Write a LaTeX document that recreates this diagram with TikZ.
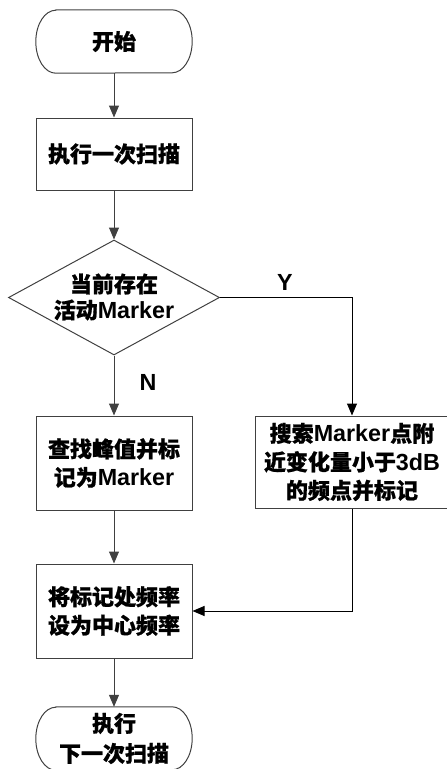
\documentclass[tikz,border=0pt]{standalone}
\usepackage{fontspec}
\setmainfont{Liberation Sans}[Scale=1.06]
\newfontfamily\cjk{Noto Sans CJK SC}[BoldFeatures={FakeBold=0.8}]
\usetikzlibrary{shapes.geometric,arrows.meta,calc}
\newcommand{\C}[1]{{\cjk\bfseries #1}}
\tikzset{
  lc/.style={draw=black!75, line width=1pt},
  boxnode/.style={lc, rectangle, inner sep=0pt, minimum width=156pt, align=center,
    font=\fontsize{22pt}{28.5pt}\selectfont\bfseries},
  termnode/.style={rectangle, inner sep=0pt, minimum width=156pt, minimum height=63pt, align=center,
    font=\fontsize{22pt}{30pt}\selectfont\bfseries},
  decnode/.style={lc, diamond, inner sep=0pt, minimum width=211pt, minimum height=115pt},
  txt/.style={inner sep=0pt, align=center, font=\fontsize{22pt}{26pt}\selectfont\bfseries},
  arr/.style={lc, -{Triangle[width=10pt,length=12pt]}},
  lab/.style={inner sep=0pt, font=\fontsize{22pt}{26pt}\selectfont\bfseries}
}
\newcommand{\term}[1]{%
  \draw[lc] ([xshift=20pt]#1.north west) -- ([xshift=-20pt]#1.north east)
    arc[start angle=90,end angle=-90,x radius=20pt,y radius=31.5pt]
    -- ([xshift=20pt]#1.south west)
    arc[start angle=270,end angle=90,x radius=20pt,y radius=31.5pt] -- cycle;}
\begin{document}
\begin{tikzpicture}[x=1pt,y=-1pt]
\useasboundingbox (0,0) rectangle (447,769);
\node[termnode] (start) at (114,41.5) {\C{开始}};
\term{start}
\node[boxnode, minimum height=72pt] (scan) at (114,154) {\C{执行一次扫描}};
\node[decnode] (dec) at (114,297.5) {};
\node[txt] (dectxt) at (114,297) {\C{当前存在}\\\C{活动}Marker};
\node[boxnode, minimum height=94pt] (peak) at (114,463) {\C{查找峰值并标}\\\C{记为}Marker};
\node[boxnode, minimum width=194pt, minimum height=92pt] (search) at (352,462)
  {\C{搜索}Marker\C{点附}\\\C{近变化量小于}3dB\\\C{的频点并标记}};
\node[boxnode, minimum height=94pt] (center) at (114,611) {\C{将标记处频率}\\\C{设为中心频率}};
\node[termnode] (next) at (114,738.5) {\C{执行}\\\C{下一次扫描}};
\term{next}
\node[lab] (ylab) at (285,282) {Y};
\node[lab] (nlab) at (148,382) {N};
\draw[arr] (start) -- (scan);
\draw[arr] (scan) -- (dec);
\draw[arr] (dec) -- (peak);
\draw[arr, draw=black] (dec.east) -| (search.north);
\draw[arr] (peak) -- (center);
\draw[arr, draw=black] (search.south) |- (center.east);
\draw[arr] (center) -- (next);
\end{tikzpicture}
\end{document}
